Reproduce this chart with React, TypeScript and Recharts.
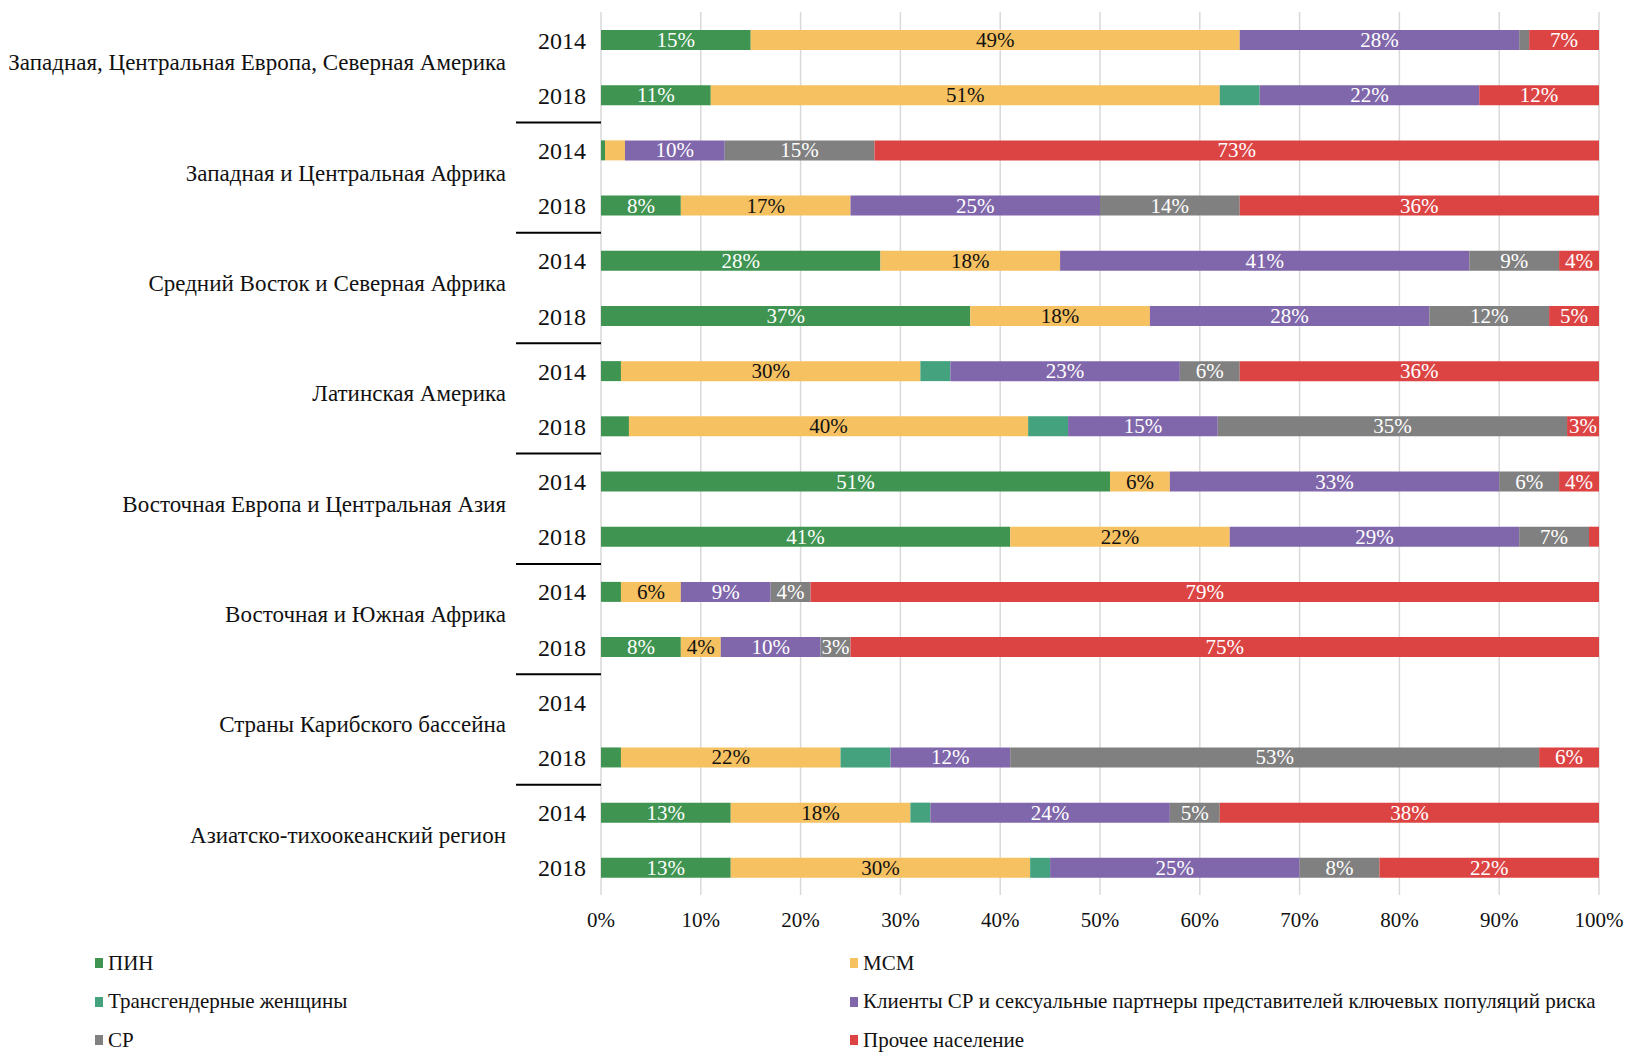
import React from "react";
import { BarChart, Bar, XAxis, YAxis, CartesianGrid, LabelList, Legend } from "recharts";

const groups = [
  "Западная, Центральная Европа, Северная Америка",
  "Западная и Центральная Африка",
  "Средний Восток и Северная Африка",
  "Латинская Америка",
  "Восточная Европа и Центральная Азия",
  "Восточная и Южная Африка",
  "Страны Карибского бассейна",
  "Азиатско-тихоокеанский регион",
];
const years = ["2014", "2018"];

// one value per row: each group 2014 then 2018 (Caribbean 2014 has no data)
const pin = [15, 11, 0.4, 8, 28, 37, 2, 2.8, 51, 41, 2, 8, null, 2, 13, 13];
const msm = [49, 51, 2, 17, 18, 18, 30, 40, 6, 22, 6, 4, null, 22, 18, 30];
const transWomen = [0, 4, 0, 0, 0, 0, 3, 4, 0, 0, 0, 0, null, 5, 2, 2];
const clients = [28, 22, 10, 25, 41, 28, 23, 15, 33, 29, 9, 10, null, 12, 24, 25];
const sw = [1, 0, 15, 14, 9, 12, 6, 35, 6, 7, 4, 3, null, 53, 5, 8];
const other = [7, 12, 72.6, 36, 4, 5, 36, 3.2, 4, 1, 79, 75, null, 6, 38, 22];

const seriesNames = [
  "ПИН",
  "МСМ",
  "Трансгендерные женщины",
  "Клиенты СР и сексуальные партнеры представителей ключевых популяций риска",
  "СР",
  "Прочее население",
];
const seriesValues = [pin, msm, transWomen, clients, sw, other];
const COLORS = ["#3e9450", "#f6c161", "#45a27f", "#8067ab", "#808080", "#dc4444"];
const LABEL_COLORS = ["#fff", "#111", "#fff", "#fff", "#fff", "#fff"];
const xTicks = [0, 10, 20, 30, 40, 50, 60, 70, 80, 90, 100];

const FONT = "'Liberation Serif', 'Times New Roman', serif";
const W = 1625;
const H = 1052;
const PLOT_TOP = 12;
const PLOT_BOTTOM = 895;
const X_AXIS_H = 40;

const rows = groups.flatMap((group, gi) =>
  years.map((year, yi) => {
    const i = gi * 2 + yi;
    const row: Record<string, any> = { id: `${gi}|${year}`, group, year };
    seriesValues.forEach((vals, si) => {
      row[`s${si}`] = vals[i];
    });
    return row;
  })
);

const ROW_H = (PLOT_BOTTOM - PLOT_TOP) / rows.length;

const YTick = (props: any) => {
  const { x, y, payload } = props;
  const [gi, year] = String(payload.value).split("|");
  const g = Number(gi);
  const first = year === years[0];
  return (
    <g>
      <text x={x} y={y + 9} textAnchor="end" fontSize={24} fill="#111" fontFamily={FONT}>
        {year}
      </text>
      {first && (
        <text x={x - 80} y={y + ROW_H / 2 + 3} textAnchor="end" fontSize={23} fill="#111" fontFamily={FONT}>
          {groups[g]}
        </text>
      )}
      {!first && g < groups.length - 1 && (
        <line x1={x - 70} x2={x + 15} y1={y + ROW_H / 2} y2={y + ROW_H / 2} stroke="#000" strokeWidth={2} />
      )}
    </g>
  );
};

const makeLabel = (color: string) => (props: any) => {
  const { x, y, width, height, value } = props;
  if (value == null || value < 3) return null;
  return (
    <text
      x={x + width / 2}
      y={y + height / 2 + 7}
      textAnchor="middle"
      fontSize={21}
      fill={color}
      fontFamily={FONT}
    >
      {`${Math.round(value)}%`}
    </text>
  );
};

const renderLegend = (props: any) => {
  const items = [...(props.payload || [])].sort(
    (a: any, b: any) => seriesNames.indexOf(a.value) - seriesNames.indexOf(b.value)
  );
  return (
    <div
      style={{
        display: "grid",
        gridTemplateColumns: "755px auto",
        paddingLeft: 95,
        fontFamily: FONT,
        fontSize: 21,
        color: "#111",
      }}
    >
      {items.map((it: any) => (
        <div key={it.value} style={{ display: "flex", alignItems: "center", height: 38.5 }}>
          <span style={{ display: "inline-block", width: 8, height: 10, background: it.color, marginRight: 5 }} />
          <span>{it.value}</span>
        </div>
      ))}
    </div>
  );
};

export default function App() {
  return (
    <div style={{ position: "absolute", left: 0, top: 0, width: W, height: H, background: "#fff", fontFamily: FONT }}>
      <BarChart
        width={W}
        height={H}
        data={rows}
        layout="vertical"
        barCategoryGap={0}
        margin={{ top: PLOT_TOP, right: 26, bottom: H - PLOT_BOTTOM - X_AXIS_H, left: 0 }}
      >
        <CartesianGrid horizontal={false} stroke="#d9d9d9" strokeWidth={1.5} />
        <XAxis
          type="number"
          domain={[0, 100]}
          ticks={xTicks}
          interval={0}
          height={X_AXIS_H}
          axisLine={false}
          tickLine={false}
          tickSize={6}
          tickMargin={11}
          tickFormatter={(v: number) => `${v}%`}
          tick={{ fontSize: 21, fill: "#111", fontFamily: FONT }}
        />
        <YAxis
          type="category"
          dataKey="id"
          width={601}
          interval={0}
          axisLine={false}
          tickLine={false}
          tickSize={6}
          tickMargin={9}
          tick={<YTick />}
        />
        <Legend
          content={renderLegend}
          layout="horizontal"
          verticalAlign="middle"
          align="center"
          wrapperStyle={{ position: "absolute", left: 0, top: 944, width: W }}
        />
        {seriesNames.map((name, si) => (
          <Bar
            key={name}
            dataKey={`s${si}`}
            name={name}
            stackId="a"
            fill={COLORS[si]}
            barSize={20}
            isAnimationActive={false}
          >
            {si !== 2 && <LabelList dataKey={`s${si}`} content={makeLabel(LABEL_COLORS[si])} />}
          </Bar>
        ))}
      </BarChart>
    </div>
  );
}
